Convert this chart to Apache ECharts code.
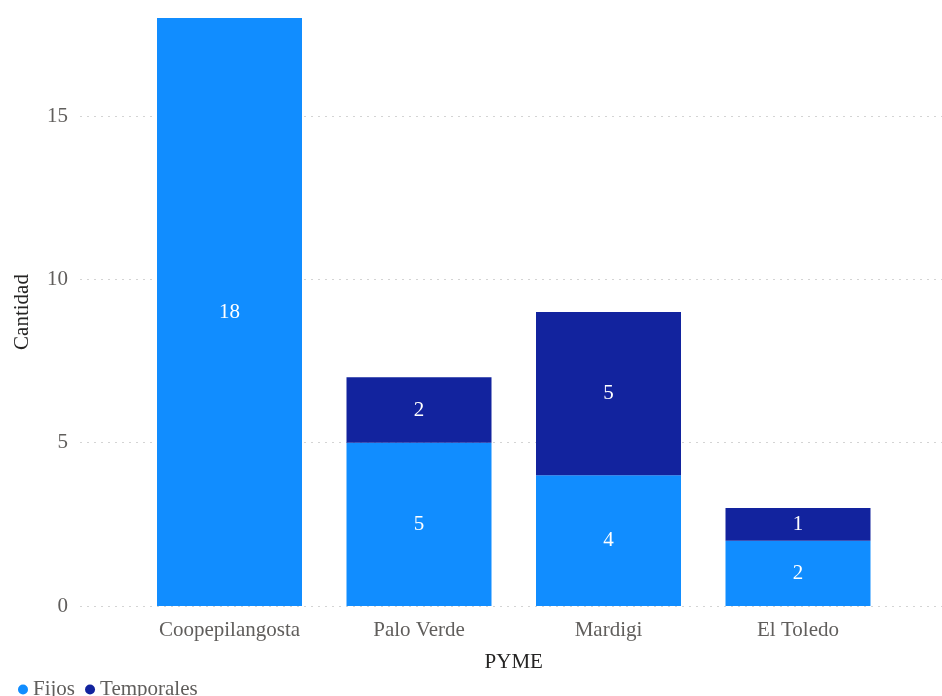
<!DOCTYPE html>
<html>
<head>
<meta charset="utf-8">
<script src="https://cdn.jsdelivr.net/npm/echarts@6/dist/echarts.min.js"></script>
<style>html,body{margin:0;padding:0;background:#fff}#c{width:942px;height:696px}</style>
</head>
<body>
<div id="c"></div>
<script>
const categories = ['Coopepilangosta', 'Palo Verde', 'Mardigi', 'El Toledo'];
const fijos = [18, 5, 4, 2];
const temporales = [null, 2, 5, 1];
const seriesNames = ['Fijos', 'Temporales'];
const yTicks = [0, 5, 10, 15];

const FONT = '"Liberation Serif", "Times New Roman", serif';
const chart = echarts.init(document.getElementById('c'));
const gTop = 18, gBottom = 90;
const grid = '#d4d4d4';
chart.setOption({
  animation: false,
  textStyle: { fontFamily: FONT },
  legend: {
    left: 13, top: 674, icon: 'circle', itemWidth: 10, itemHeight: 10, itemGap: 10,
    textStyle: { fontFamily: FONT, fontSize: 21, color: '#605E5C' },
    data: seriesNames
  },
  grid: [
    { left: 80, right: 0, top: gTop, bottom: gBottom },
    { left: 134.75, right: 49.25, top: gTop, bottom: gBottom }
  ],
  xAxis: [
    { gridIndex: 0, type: 'value', show: false, min: 0, max: 1 },
    {
      gridIndex: 1, type: 'category', data: categories,
      axisLine: { show: false }, axisTick: { show: false },
      axisLabel: { fontFamily: FONT, fontSize: 21, color: '#605E5C', margin: 14 },
      name: 'PYME', nameLocation: 'middle', nameGap: 46,
      nameTextStyle: { fontFamily: FONT, fontSize: 21, color: '#252423' }
    }
  ],
  yAxis: [
    {
      gridIndex: 0, type: 'value', min: 0, max: 18, interval: 5,
      axisLine: { show: false }, axisTick: { show: false },
      axisLabel: { fontFamily: FONT, fontSize: 21, color: '#605E5C', margin: 12,
        formatter: v => yTicks.indexOf(v) >= 0 ? String(v) : '' },
      splitLine: { show: true, lineStyle: { type: [2, 5], color: [grid, grid, grid, grid, 'rgba(0,0,0,0)'], width: 1 } },
      name: 'Cantidad', nameLocation: 'middle', nameGap: 47,
      nameTextStyle: { fontFamily: FONT, fontSize: 21, color: '#252423' }
    },
    { gridIndex: 1, type: 'value', min: 0, max: 18, show: false }
  ],
  series: [
    {
      name: seriesNames[0], type: 'bar', stack: 's', xAxisIndex: 1, yAxisIndex: 1,
      data: fijos, barWidth: 145, itemStyle: { color: '#118DFF' },
      label: { show: true, position: 'inside', color: '#fff', fontFamily: FONT, fontSize: 21 }
    },
    {
      name: seriesNames[1], type: 'bar', stack: 's', xAxisIndex: 1, yAxisIndex: 1,
      data: temporales, barWidth: 145, itemStyle: { color: '#12239E' },
      label: { show: true, position: 'inside', color: '#fff', fontFamily: FONT, fontSize: 21 }
    }
  ]
});
</script>
</body>
</html>
